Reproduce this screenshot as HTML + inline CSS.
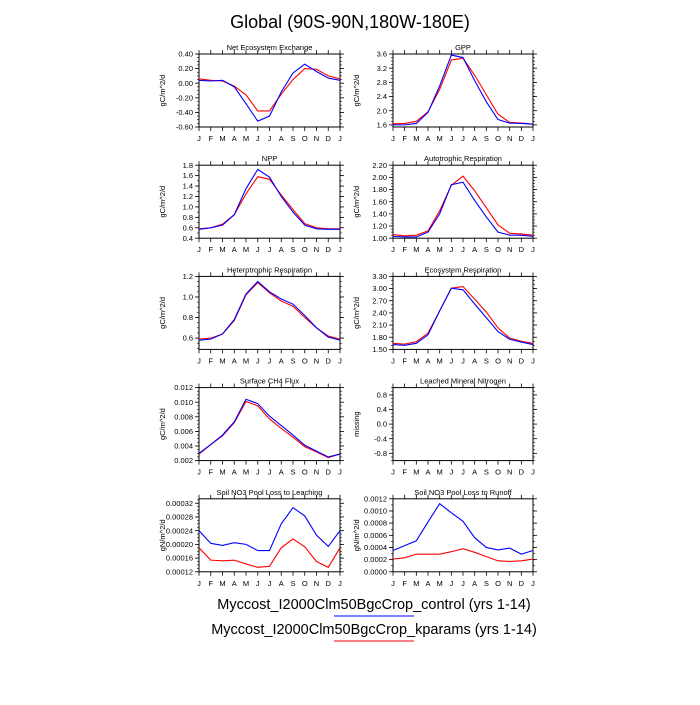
<!DOCTYPE html>
<html><head><meta charset="utf-8"><style>
body{margin:0;background:#fff;width:700px;height:700px;overflow:hidden}
svg{font-family:"Liberation Sans",sans-serif}
</style></head><body>
<svg id="s" width="700" height="700" xmlns="http://www.w3.org/2000/svg">
<text x="350" y="28" font-size="18" text-anchor="middle">Global (90S-90N,180W-180E)</text>
<text x="374" y="609" font-size="14.5" text-anchor="middle">Myccost_I2000Clm50BgcCrop_control (yrs 1-14)</text>
<line x1="334" y1="616" x2="414" y2="616" stroke="#0000ff" stroke-width="1"/>
<text x="374" y="634" font-size="14.5" text-anchor="middle">Myccost_I2000Clm50BgcCrop_kparams (yrs 1-14)</text>
<line x1="334" y1="641" x2="414" y2="641" stroke="#ff0000" stroke-width="1"/>
</svg>
<script>
const S=document.getElementById('s');
const M=['J','F','M','A','M','J','J','A','S','O','N','D','J'];
function el(t,a,txt){const e=document.createElementNS('http://www.w3.org/2000/svg',t);for(const k in a)e.setAttribute(k,a[k]);if(txt!==undefined)e.textContent=txt;S.appendChild(e);return e;}
const P=[
{c:0,row:0,t:'Net Ecosystem Exchange',lo:-0.6,hi:0.4,tk:[-0.6,-0.4,-0.2,0,0.2,0.4],d:2,mn:0.05,yl:'gC/m^2/d',
b:[0.04,0.03,0.04,-0.05,-0.28,-0.52,-0.45,-0.12,0.14,0.26,0.16,0.07,0.04],
r:[0.06,0.04,0.03,-0.04,-0.16,-0.38,-0.38,-0.15,0.05,0.2,0.19,0.1,0.06]},
{c:1,row:0,t:'GPP',lo:1.54,hi:3.6,tk:[1.6,2.0,2.4,2.8,3.2,3.6],d:1,mn:0.1,yl:'gC/m^2/d',
b:[1.6,1.6,1.64,1.95,2.7,3.57,3.5,2.85,2.25,1.75,1.65,1.64,1.62],
r:[1.63,1.64,1.7,1.97,2.6,3.43,3.48,3.0,2.45,1.9,1.67,1.65,1.62]},
{c:0,row:1,t:'NPP',lo:0.4,hi:1.8,tk:[0.4,0.6,0.8,1.0,1.2,1.4,1.6,1.8],d:1,mn:0.1,yl:'gC/m^2/d',
b:[0.57,0.6,0.65,0.85,1.35,1.72,1.57,1.2,0.9,0.65,0.58,0.57,0.57],
r:[0.58,0.6,0.67,0.85,1.25,1.58,1.53,1.23,0.95,0.68,0.6,0.58,0.58]},
{c:1,row:1,t:'Autotrophic Respiration',lo:1.0,hi:2.2,tk:[1.0,1.2,1.4,1.6,1.8,2.0,2.2],d:2,mn:0.05,yl:'gC/m^2/d',
b:[1.03,1.02,1.02,1.1,1.4,1.88,1.92,1.62,1.35,1.1,1.05,1.05,1.03],
r:[1.06,1.04,1.05,1.12,1.45,1.87,2.02,1.78,1.5,1.22,1.08,1.07,1.05]},
{c:0,row:2,t:'Heterotrophic Respiration',lo:0.49,hi:1.2,tk:[0.6,0.8,1.0,1.2],d:1,mn:0.05,yl:'gC/m^2/d',
b:[0.58,0.59,0.64,0.78,1.03,1.15,1.05,0.98,0.93,0.82,0.7,0.61,0.58],
r:[0.59,0.6,0.64,0.77,1.02,1.14,1.04,0.96,0.91,0.8,0.7,0.62,0.59]},
{c:1,row:2,t:'Ecosystem Respiration',lo:1.5,hi:3.3,tk:[1.5,1.8,2.1,2.4,2.7,3.0,3.3],d:2,mn:0.1,yl:'gC/m^2/d',
b:[1.62,1.6,1.65,1.86,2.45,3.01,2.97,2.62,2.28,1.94,1.75,1.68,1.62],
r:[1.65,1.63,1.69,1.9,2.45,3.01,3.05,2.74,2.42,2.03,1.78,1.7,1.65]},
{c:0,row:3,t:'Surface CH4 Flux',lo:0.002,hi:0.012,tk:[0.002,0.004,0.006,0.008,0.010,0.012],d:3,mn:0.0005,yl:'gC/m^2/d',
b:[0.003,0.0042,0.0055,0.0073,0.0104,0.0098,0.0081,0.0068,0.0055,0.0041,0.0033,0.0025,0.0029],
r:[0.0029,0.0042,0.0054,0.0072,0.0101,0.0095,0.0077,0.0064,0.0052,0.0039,0.0032,0.0024,0.0029]},
{c:1,row:3,t:'Leached Mineral Nitrogen',lo:-1,hi:1,tk:[-0.8,-0.4,0,0.4,0.8],d:1,mn:0.1,yl:'missing',b:null,r:null},
{c:0,row:4,t:'Soil NO3 Pool Loss to Leaching',lo:0.00012,hi:0.000333,tk:[0.00012,0.00016,0.0002,0.00024,0.00028,0.00032],d:5,mn:0.00001,yl:'gN/m^2/d',
b:[0.00024,0.000203,0.000197,0.000205,0.0002,0.000182,0.000182,0.00026,0.000307,0.000283,0.000227,0.000194,0.00024],
r:[0.00019,0.000154,0.000152,0.000154,0.000143,0.000133,0.000136,0.00019,0.000216,0.000193,0.00015,0.000133,0.00019]},
{c:1,row:4,t:'Soil NO3 Pool Loss to Runoff',lo:0,hi:0.0012,tk:[0,0.0002,0.0004,0.0006,0.0008,0.001,0.0012],d:4,mn:0.0001,yl:'gN/m^2/d',
b:[0.00035,0.00043,0.00051,0.00082,0.00112,0.00097,0.00083,0.00056,0.0004,0.00036,0.00039,0.00029,0.00035],
r:[0.00021,0.00023,0.00029,0.00029,0.00029,0.00033,0.00038,0.00032,0.00025,0.00018,0.00017,0.00018,0.00021]}
];
P.forEach(p=>{
const x0=p.c?393:199,x1=p.c?533:340,y0=54+p.row*111.2,y1=y0+73;
const X=i=>x0+(x1-x0)*i/12,Y=v=>y1-(v-p.lo)/(p.hi-p.lo)*(y1-y0);
el('text',{x:(x0+x1)/2,y:y0-4,'font-size':7.5,'text-anchor':'middle'},p.t);
el('text',{transform:`translate(${x0-34},${(y0+y1)/2}) rotate(-90)`,'font-size':7.5,'text-anchor':'middle'},p.yl);
for(let i=0;i<13;i++){
el('line',{x1:X(i),x2:X(i),y1:y1,y2:y1+4,stroke:'#000','stroke-width':0.8});
el('line',{x1:X(i),x2:X(i),y1:y0,y2:y0-4,stroke:'#000','stroke-width':0.8});
el('text',{x:X(i),y:y1+14,'font-size':7.5,'text-anchor':'middle'},M[i]);
}
for(let v=Math.ceil(p.lo/p.mn-1e-6)*p.mn;v<=p.hi+1e-12;v+=p.mn){
const y=Y(v);
el('line',{x1:x0,x2:x0-2,y1:y,y2:y,stroke:'#000','stroke-width':0.6});
el('line',{x1:x1,x2:x1+2,y1:y,y2:y,stroke:'#000','stroke-width':0.6});
}
p.tk.forEach(v=>{const y=Y(v);
el('line',{x1:x0,x2:x0-4,y1:y,y2:y,stroke:'#000','stroke-width':0.8});
el('line',{x1:x1,x2:x1+4,y1:y,y2:y,stroke:'#000','stroke-width':0.8});
el('text',{x:x0-6,y:y+2.6,'font-size':7.5,'text-anchor':'end'},v.toFixed(p.d));
});
el('rect',{x:x0,y:y0,width:x1-x0,height:y1-y0,fill:'none',stroke:'#000','stroke-width':1});
[['r','#ff0000'],['b','#0000ff']].forEach(([k,c])=>{if(!p[k])return;
el('polyline',{points:p[k].map((v,i)=>X(i)+','+Y(v)).join(' '),fill:'none',stroke:c,'stroke-width':1.1});});
});
</script>
</body></html>
